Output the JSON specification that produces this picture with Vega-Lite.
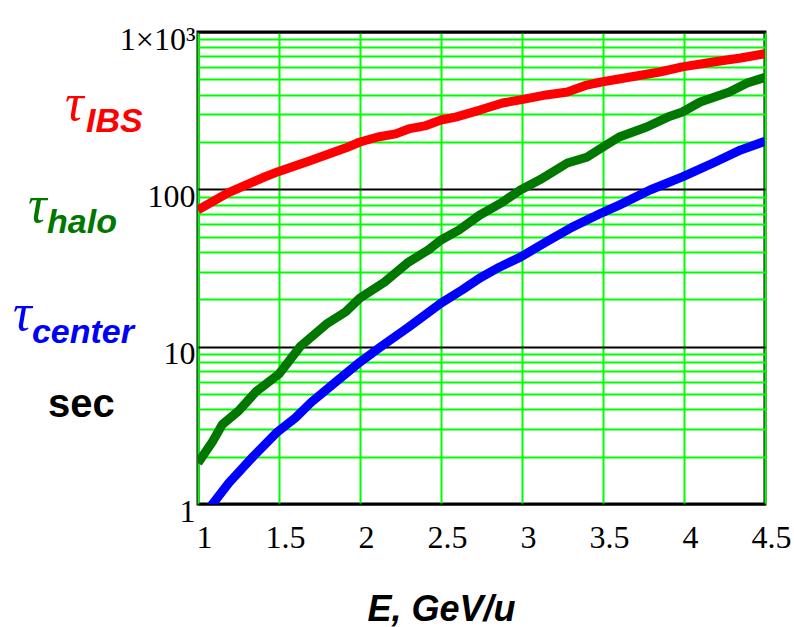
{
  "$schema": "https://vega.github.io/schema/vega-lite/v6.json",
  "width": 567,
  "height": 472,
  "autosize": {"type": "none"},
  "padding": {"left": 198, "top": 32, "right": 29, "bottom": 123},
  "background": "white",
  "config": {
    "view": {"stroke": "black", "strokeWidth": 3},
    "axis": {"ticks": false, "tickSize": 0, "domain": false, "labelFlush": false, "labelOverlap": false, "labelBound": false}
  },
  "data": {"values": [
    {"series": "IBS", "E": 1.0, "t": 74},
    {"series": "IBS", "E": 1.185, "t": 95},
    {"series": "IBS", "E": 1.395, "t": 118},
    {"series": "IBS", "E": 1.49, "t": 129},
    {"series": "IBS", "E": 1.70, "t": 153},
    {"series": "IBS", "E": 1.91, "t": 183},
    {"series": "IBS", "E": 2.0, "t": 200},
    {"series": "IBS", "E": 2.11, "t": 215},
    {"series": "IBS", "E": 2.22, "t": 225},
    {"series": "IBS", "E": 2.30, "t": 242},
    {"series": "IBS", "E": 2.40, "t": 253},
    {"series": "IBS", "E": 2.50, "t": 276},
    {"series": "IBS", "E": 2.59, "t": 288},
    {"series": "IBS", "E": 2.74, "t": 319},
    {"series": "IBS", "E": 2.88, "t": 354},
    {"series": "IBS", "E": 2.99, "t": 370},
    {"series": "IBS", "E": 3.15, "t": 398},
    {"series": "IBS", "E": 3.28, "t": 416},
    {"series": "IBS", "E": 3.40, "t": 460},
    {"series": "IBS", "E": 3.49, "t": 481},
    {"series": "IBS", "E": 3.67, "t": 518},
    {"series": "IBS", "E": 3.85, "t": 557},
    {"series": "IBS", "E": 3.99, "t": 600},
    {"series": "IBS", "E": 4.18, "t": 644},
    {"series": "IBS", "E": 4.35, "t": 684},
    {"series": "IBS", "E": 4.5, "t": 728},
    {"series": "halo", "E": 1.0, "t": 1.82},
    {"series": "halo", "E": 1.09, "t": 2.5},
    {"series": "halo", "E": 1.15, "t": 3.2},
    {"series": "halo", "E": 1.25, "t": 3.9},
    {"series": "halo", "E": 1.36, "t": 5.2},
    {"series": "halo", "E": 1.50, "t": 6.7},
    {"series": "halo", "E": 1.63, "t": 10},
    {"series": "halo", "E": 1.80, "t": 14.1},
    {"series": "halo", "E": 1.91, "t": 16.6},
    {"series": "halo", "E": 2.0, "t": 20.4},
    {"series": "halo", "E": 2.15, "t": 25.7},
    {"series": "halo", "E": 2.30, "t": 34.5},
    {"series": "halo", "E": 2.42, "t": 41.1},
    {"series": "halo", "E": 2.50, "t": 47.6},
    {"series": "halo", "E": 2.61, "t": 55},
    {"series": "halo", "E": 2.74, "t": 68.7},
    {"series": "halo", "E": 2.88, "t": 83},
    {"series": "halo", "E": 2.99, "t": 99},
    {"series": "halo", "E": 3.11, "t": 115},
    {"series": "halo", "E": 3.28, "t": 147},
    {"series": "halo", "E": 3.40, "t": 160},
    {"series": "halo", "E": 3.49, "t": 183},
    {"series": "halo", "E": 3.60, "t": 215},
    {"series": "halo", "E": 3.77, "t": 249},
    {"series": "halo", "E": 3.90, "t": 288},
    {"series": "halo", "E": 3.99, "t": 310},
    {"series": "halo", "E": 4.10, "t": 359},
    {"series": "halo", "E": 4.28, "t": 416},
    {"series": "halo", "E": 4.39, "t": 474},
    {"series": "halo", "E": 4.5, "t": 515},
    {"series": "center", "E": 1.0, "t": 0.76},
    {"series": "center", "E": 1.09, "t": 1.0},
    {"series": "center", "E": 1.19, "t": 1.36},
    {"series": "center", "E": 1.34, "t": 2.0},
    {"series": "center", "E": 1.49, "t": 2.87},
    {"series": "center", "E": 1.60, "t": 3.52},
    {"series": "center", "E": 1.70, "t": 4.44},
    {"series": "center", "E": 1.85, "t": 5.96},
    {"series": "center", "E": 2.0, "t": 7.98},
    {"series": "center", "E": 2.14, "t": 10.2},
    {"series": "center", "E": 2.30, "t": 13.3},
    {"series": "center", "E": 2.50, "t": 18.9},
    {"series": "center", "E": 2.63, "t": 22.9},
    {"series": "center", "E": 2.74, "t": 27.3},
    {"series": "center", "E": 2.86, "t": 32},
    {"series": "center", "E": 2.99, "t": 37.1},
    {"series": "center", "E": 3.15, "t": 46.3},
    {"series": "center", "E": 3.31, "t": 57.5},
    {"series": "center", "E": 3.49, "t": 70.7},
    {"series": "center", "E": 3.60, "t": 79.4},
    {"series": "center", "E": 3.79, "t": 99},
    {"series": "center", "E": 3.99, "t": 120},
    {"series": "center", "E": 4.18, "t": 147},
    {"series": "center", "E": 4.35, "t": 178},
    {"series": "center", "E": 4.5, "t": 202}
  ]},
  "layer": [
    {
      "mark": {"type": "line", "strokeWidth": 9, "clip": true, "strokeJoin": "round", "strokeCap": "butt"},
      "encoding": {
        "x": {
          "field": "E", "type": "quantitative",
          "scale": {"domain": [1, 4.5], "nice": false, "zero": false},
          "axis": {
            "values": [1, 1.5, 2, 2.5, 3, 3.5, 4, 4.5],
            "grid": true, "gridColor": "#00ff00", "gridWidth": 2, "gridOpacity": 1,
            "labelFont": "Liberation Serif", "labelFontSize": 32, "labelColor": "black",
            "labelBaseline": "alphabetic", "labelPadding": 43, "labelOffset": 6,
            "labelExpr": "datum.value == 1 ? '1' : datum.value == 2 ? '2' : datum.value == 3 ? '3' : datum.value == 4 ? '4' : datum.label",
            "format": ".1f",
            "title": "E, GeV/u",
            "titleFont": "Liberation Sans", "titleFontSize": 36, "titleFontWeight": "bold", "titleFontStyle": "italic",
            "titleColor": "black", "titleX": 243, "titleY": 116, "titleAlign": "center", "titleBaseline": "alphabetic"
          }
        },
        "y": {
          "field": "t", "type": "quantitative",
          "scale": {"type": "log", "domain": [1, 1000], "nice": false},
          "axis": {
            "values": [1, 2, 3, 4, 5, 6, 7, 8, 9, 10, 20, 30, 40, 50, 60, 70, 80, 90, 100, 200, 300, 400, 500, 600, 700, 800, 900, 1000],
            "grid": true, "gridWidth": 2, "gridOpacity": 1,
            "gridColor": {"condition": {"test": "datum.value == 10 || datum.value == 100 || datum.value == 1 || datum.value == 1000", "value": "black"}, "value": "#00ff00"},
            "labelFont": "Liberation Serif", "labelFontSize": 32, "labelColor": "black",
            "labelBaseline": "alphabetic", "labelOffset": 17, "labelPadding": 3, "labelAlign": "right",
            "labelExpr": "datum.value == 1 ? '1' : datum.value == 10 ? '10' : datum.value == 100 ? '100' : datum.value == 1000 ? '1×10³' : ''",
            "title": null
          }
        },
        "color": {
          "field": "series", "type": "nominal",
          "scale": {"domain": ["IBS", "halo", "center", "sec"], "range": ["#ff0000", "#007800", "#0000ff", "#000000"]},
          "legend": null
        },
        "detail": {"field": "series"}
      }
    },
    {
      "data": {"values": [{"series": "IBS", "txt": "τ"}]},
      "mark": {"type": "text", "align": "left", "baseline": "alphabetic", "font": "Liberation Serif", "fontStyle": "italic", "fontSize": 52},
      "encoding": {"x": {"datum": 0.179}, "y": {"datum": 275.9}, "text": {"field": "txt"}, "color": {"field": "series", "type": "nominal"}}
    },
    {
      "data": {"values": [{"series": "IBS", "txt": "IBS"}]},
      "mark": {"type": "text", "align": "left", "baseline": "alphabetic", "font": "Liberation Sans", "fontStyle": "italic", "fontWeight": "bold", "fontSize": 34},
      "encoding": {"x": {"datum": 0.309}, "y": {"datum": 231.3}, "text": {"field": "txt"}, "color": {"field": "series", "type": "nominal"}}
    },
    {
      "data": {"values": [{"series": "halo", "txt": "τ"}]},
      "mark": {"type": "text", "align": "left", "baseline": "alphabetic", "font": "Liberation Serif", "fontStyle": "italic", "fontSize": 52},
      "encoding": {"x": {"datum": -0.049}, "y": {"datum": 61.9}, "text": {"field": "txt"}, "color": {"field": "series", "type": "nominal"}}
    },
    {
      "data": {"values": [{"series": "halo", "txt": "halo"}]},
      "mark": {"type": "text", "align": "left", "baseline": "alphabetic", "font": "Liberation Sans", "fontStyle": "italic", "fontWeight": "bold", "fontSize": 34},
      "encoding": {"x": {"datum": 0.068}, "y": {"datum": 52.8}, "text": {"field": "txt"}, "color": {"field": "series", "type": "nominal"}}
    },
    {
      "data": {"values": [{"series": "center", "txt": "τ"}]},
      "mark": {"type": "text", "align": "left", "baseline": "alphabetic", "font": "Liberation Serif", "fontStyle": "italic", "fontSize": 52},
      "encoding": {"x": {"datum": -0.142}, "y": {"datum": 12.8}, "text": {"field": "txt"}, "color": {"field": "series", "type": "nominal"}}
    },
    {
      "data": {"values": [{"series": "center", "txt": "center"}]},
      "mark": {"type": "text", "align": "left", "baseline": "alphabetic", "font": "Liberation Sans", "fontStyle": "italic", "fontWeight": "bold", "fontSize": 34},
      "encoding": {"x": {"datum": -0.025}, "y": {"datum": 10.55}, "text": {"field": "txt"}, "color": {"field": "series", "type": "nominal"}}
    },
    {
      "data": {"values": [{"series": "sec", "txt": "sec"}]},
      "mark": {"type": "text", "align": "left", "baseline": "alphabetic", "font": "Liberation Sans", "fontWeight": "bold", "fontSize": 40},
      "encoding": {"x": {"datum": 0.074}, "y": {"datum": 3.57}, "text": {"field": "txt"}, "color": {"field": "series", "type": "nominal"}}
    }
  ]
}
